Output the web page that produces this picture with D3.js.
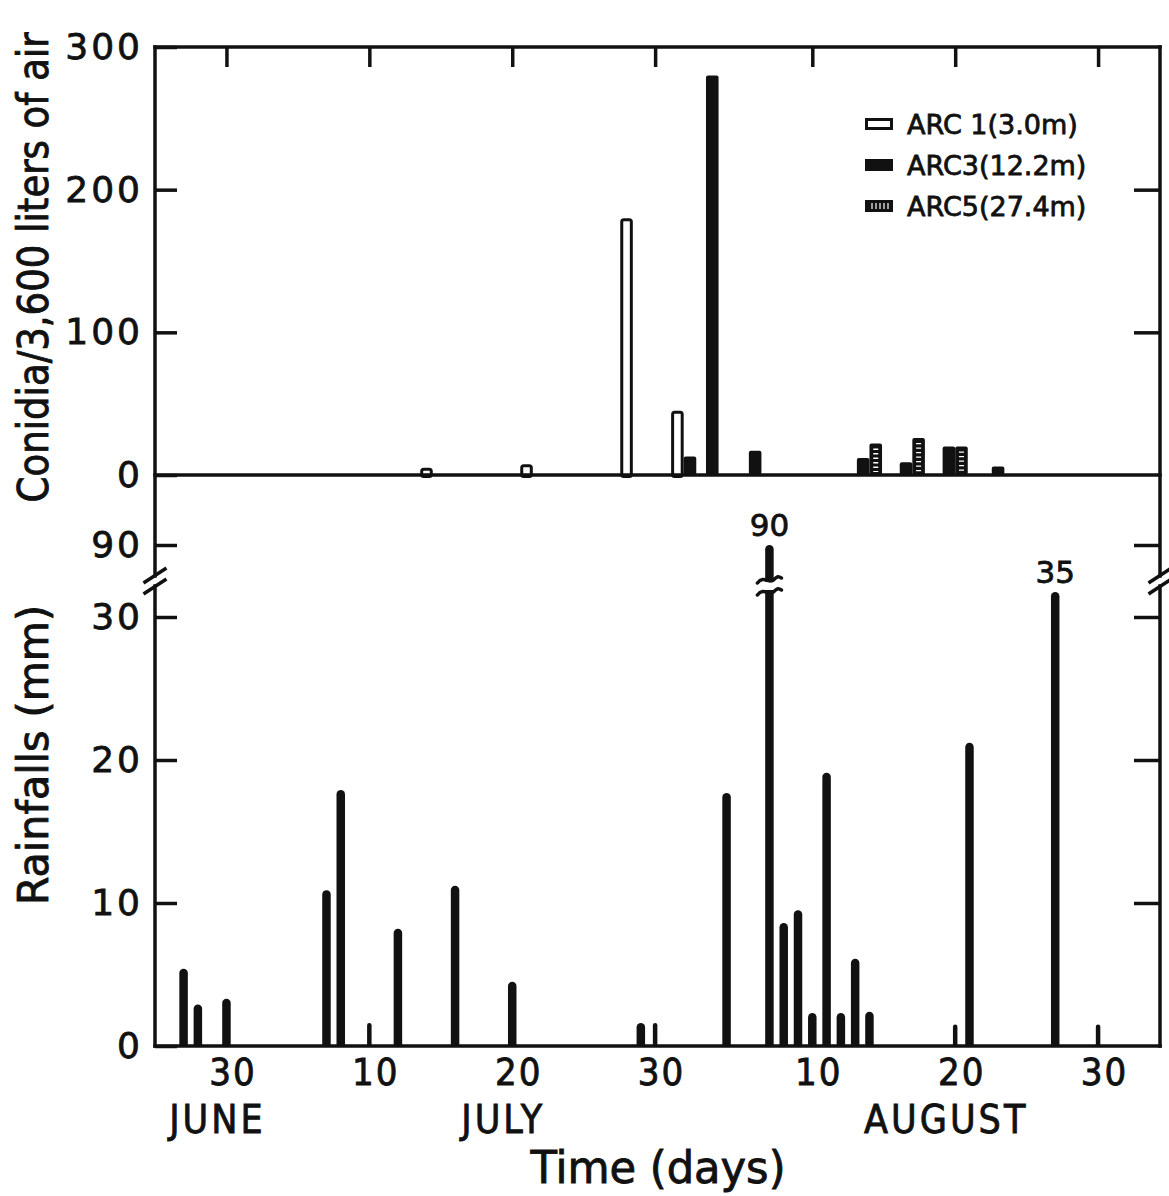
<!DOCTYPE html>
<html>
<head>
<meta charset="utf-8">
<script src="https://cdn.jsdelivr.net/npm/d3@7"></script>
<style>
  body { margin: 0; background: #fff; }
  svg { display: block; }
  text { font-family: "DejaVu Sans", sans-serif; fill: #111; stroke: #111; stroke-width: 0.8px; }
</style>
</head>
<body>
<svg id="chart"></svg>
<script>
// conidia samples (day of sampling) and counts per trap height
const sampleDates = ["07-14", "07-21", "07-28", "08-01", "08-03", "08-06", "08-14", "08-17", "08-20", "08-23"];
const arc1 = [5, 7.5, 180, 45, null, null, null, null, null, null];
const arc3 = [null, null, null, 13, 280, 17, 12, 9, 20, 6];
const arc5 = [null, null, null, null, null, null, 22, 26, 20, null];
const seriesNames = ["ARC 1(3.0m)", "ARC3(12.2m)", "ARC5(27.4m)"];

// daily rainfall (mm)
const rainDates = ["06-27", "06-28", "06-30", "07-07", "07-08", "07-12", "07-16", "07-20", "07-29",
                   "08-04", "08-07", "08-08", "08-09", "08-10", "08-11", "08-12", "08-13", "08-14",
                   "08-21", "08-27"];
const rainValues = [5.4, 2.9, 3.3, 10.9, 17.9, 8.2, 11.2, 4.5, 1.6,
                    17.7, 90, 8.6, 9.5, 2.3, 19.1, 2.3, 6.1, 2.4,
                    21.2, 35];
// trace rainfall, drawn as thin bars
const traceDates = ["07-10", "07-30", "08-20", "08-30"];
const traceValues = [1.6, 1.6, 1.5, 1.5];

const tickDates = ["06-30", "07-10", "07-20", "07-30", "08-10", "08-20", "08-30"];
const months = [["JUNE", "06-30"], ["JULY", "07-20"], ["AUGUST", "08-20"]];
const conidiaTicks = [0, 100, 200, 300];
const rainTicks = [0, 10, 20, 30, 90];

const width = 1169, height = 1196;
const padL = 155, padR = 1160, padT = 47, midY = 475, baseY = 1046;

const parse = d3.utcParse("%m-%d");
const svg = d3.select("#chart").attr("width", width).attr("height", height);

const x = d3.scaleUtc()
    .domain([parse("06-25"), d3.utcHour.offset(parse("09-03"), 8)])
    .range([padL, padR]);
const dayPx = x(parse("07-02")) - x(parse("07-01"));

const yC = d3.scaleLinear().domain([0, 300]).range([midY, padT]);
// broken axis: 30 -> 90 squeezed
const yR = d3.scaleLinear().domain([0, 30, 35, 90]).range([baseY, 617, 592, 545]);

const ink = "#111";
const condensed = "'DejaVu Sans Condensed', 'DejaVu Sans', sans-serif";

// ---- conidia bars
const barW = dayPx * 0.88;
const series = [arc1, arc3, arc5];
const bars = [];
sampleDates.forEach((d, i) => {
  const present = series.map((s, k) => ({ k, v: s[i] })).filter(o => o.v != null);
  const n = present.length;
  present.forEach((o, j) => {
    const cx = x(parse(d)) + (j - (n - 1) / 2) * barW;
    bars.push({ k: o.k, v: o.v, cx });
  });
});

const gBars = svg.append("g");
gBars.selectAll("rect")
  .data(bars)
  .join("rect")
  .attr("x", d => d.cx - barW / 2 + (d.k === 0 ? 1.5 : 0))
  .attr("width", d => barW - (d.k === 0 ? 3 : 0))
  .attr("y", d => yC(d.v) + (d.k === 0 ? 1.5 : 0))
  .attr("height", d => midY - yC(d.v))
  .attr("rx", 2)
  .attr("fill", d => d.k === 0 ? "#fff" : ink)
  .attr("stroke", d => d.k === 0 ? ink : "none")
  .attr("stroke-width", 3);

gBars.selectAll("line")
  .data(bars.filter(d => d.k === 2))
  .join("line")
  .attr("x1", d => d.cx).attr("x2", d => d.cx)
  .attr("y1", d => yC(d.v) + 5).attr("y2", midY - 3)
  .attr("stroke", "#fff")
  .attr("stroke-width", 5)
  .attr("stroke-dasharray", "1.3 3.2");

// ---- rainfall bars
function stick(cx, w, y0, y1) {
  const r = w / 2;
  return `M${cx - r},${y0}V${y1 + r}A${r},${r} 0 0 1 ${cx + r},${y1 + r}V${y0}Z`;
}
const rain = rainDates.map((d, i) => ({ d: parse(d), v: rainValues[i], w: 8.5 }))
  .concat(traceDates.map((d, i) => ({ d: parse(d), v: traceValues[i], w: 4.5 })));

svg.append("g").selectAll("path")
  .data(rain)
  .join("path")
  .attr("d", d => stick(x(d.d), d.w, baseY, yR(d.v)))
  .attr("fill", ink);

// break on the 90 mm bar and labels on the off-scale bars
const big = rain.find(d => d.v === 90);
const bx = x(big.d);
svg.append("rect").attr("x", bx - 8).attr("y", 582).attr("width", 16).attr("height", 8).attr("fill", "#fff");
[580, 592].forEach(yy => {
  svg.append("path")
    .attr("d", `M${bx - 12},${yy + 3}C${bx - 6},${yy - 5} ${bx},${yy + 4} ${bx + 4},${yy}S${bx + 9},${yy - 4} ${bx + 12},${yy - 2}`)
    .attr("fill", "none").attr("stroke", ink).attr("stroke-width", 3.5).attr("stroke-linecap", "round");
});
rain.filter(d => d.v > 30).forEach(d => {
  svg.append("text")
    .attr("x", x(d.d)).attr("y", yR(d.v) - 9)
    .attr("text-anchor", "middle")
    .style("font-size", "31px")
    .text(d.v);
});

// ---- frame
const frame = svg.append("g").attr("stroke", ink).attr("stroke-width", 3.5).attr("fill", "none")
  .attr("stroke-linecap", "square");
frame.append("line").attr("x1", padL).attr("x2", padR).attr("y1", padT).attr("y2", padT);
frame.append("line").attr("x1", padL).attr("x2", padR).attr("y1", midY).attr("y2", midY);
frame.append("line").attr("x1", padL).attr("x2", padR).attr("y1", baseY).attr("y2", baseY);
// left and right axes, broken between 30 and 90 mm
[padL, padR].forEach(ax => {
  frame.append("line").attr("x1", ax).attr("x2", ax).attr("y1", padT).attr("y2", 576);
  frame.append("line").attr("x1", ax).attr("x2", ax).attr("y1", 586).attr("y2", baseY);
  frame.append("line").attr("x1", ax - 10).attr("x2", ax + 10).attr("y1", 582).attr("y2", 569);
  frame.append("line").attr("x1", ax - 10).attr("x2", ax + 10).attr("y1", 593).attr("y2", 580);
});

// ---- axes
function styleAxis(g) {
  g.select(".domain").remove();
  g.selectAll(".tick line").attr("stroke", ink).attr("stroke-width", 3.5);
  g.selectAll("text").style("font-size", "36px").style("letter-spacing", "3px")
    .attr("fill", ink).attr("stroke", ink).attr("stroke-width", 1);
}
svg.append("g").attr("transform", `translate(${padL},0)`)
  .call(d3.axisLeft(yC).tickValues(conidiaTicks).tickSizeInner(-22).tickSizeOuter(0).tickPadding(12))
  .call(styleAxis);
svg.append("g").attr("transform", `translate(${padL},0)`)
  .call(d3.axisLeft(yR).tickValues(rainTicks).tickSizeInner(-22).tickSizeOuter(0).tickPadding(12))
  .call(styleAxis);
svg.append("g").attr("transform", `translate(${padR},0)`)
  .call(d3.axisRight(yC).tickValues(conidiaTicks.slice(1, 3)).tickSizeInner(-26).tickSizeOuter(0).tickFormat(""))
  .call(styleAxis);
svg.append("g").attr("transform", `translate(${padR},0)`)
  .call(d3.axisRight(yR).tickValues(rainTicks.slice(1)).tickSizeInner(-26).tickSizeOuter(0).tickFormat(""))
  .call(styleAxis);
svg.append("g").attr("transform", `translate(0,${padT})`)
  .call(d3.axisTop(x).tickValues(tickDates.map(parse)).tickSizeInner(-20).tickSizeOuter(0).tickFormat(""))
  .call(styleAxis);
const xb = svg.append("g").attr("transform", `translate(0,${baseY})`)
  .call(d3.axisBottom(x).tickValues(tickDates.map(parse)).tickSize(0).tickPadding(12)
    .tickFormat(d3.utcFormat("%-d")))
  .call(styleAxis);
xb.selectAll("text").style("font-family", condensed).style("font-size", "38px")
  .style("letter-spacing", "2px").attr("dx", 6);

svg.append("g").selectAll("text")
  .data(months)
  .join("text")
  .attr("x", d => x(parse(d[1])) - 9)
  .attr("y", 1133)
  .attr("text-anchor", "middle")
  .style("font-size", "39px")
  .style("letter-spacing", "3px")
  .style("font-family", condensed)
  .text(d => d[0]);

svg.append("text")
  .attr("x", 658).attr("y", 1183)
  .attr("text-anchor", "middle")
  .attr("textLength", 255).attr("lengthAdjust", "spacingAndGlyphs")
  .style("font-size", "44px")
  .style("font-family", condensed)
  .text("Time (days)");

svg.append("text")
  .attr("transform", `translate(48,${(505 + 30) / 2}) rotate(-90)`)
  .attr("text-anchor", "middle")
  .attr("textLength", 470).attr("lengthAdjust", "spacingAndGlyphs")
  .style("font-size", "42px")
  .style("font-family", condensed)
  .text("Conidia/3,600 liters of air");

svg.append("text")
  .attr("transform", `translate(48,755) rotate(-90)`)
  .attr("text-anchor", "middle")
  .attr("textLength", 300).attr("lengthAdjust", "spacingAndGlyphs")
  .style("font-size", "42px")
  .style("font-family", condensed)
  .text("Rainfalls (mm)");

// ---- legend
const legend = svg.append("g").attr("transform", "translate(865,124)");
const rows = legend.selectAll("g")
  .data(seriesNames)
  .join("g")
  .attr("transform", (d, i) => `translate(0,${i * 41})`);
rows.append("rect")
  .attr("x", (d, i) => i === 0 ? 1.5 : 0)
  .attr("y", (d, i) => i === 0 ? -4.5 : -6)
  .attr("width", (d, i) => i === 0 ? 25 : 28)
  .attr("height", (d, i) => i === 0 ? 9 : 12)
  .attr("fill", (d, i) => i === 0 ? "#fff" : ink)
  .attr("stroke", (d, i) => i === 0 ? ink : "none")
  .attr("stroke-width", 3);
rows.filter((d, i) => i === 2).selectAll("line")
  .data([7, 11, 15, 19, 23])
  .join("line")
  .attr("x1", d => d).attr("x2", d => d)
  .attr("y1", -3).attr("y2", 3)
  .attr("stroke", "#fff").attr("stroke-width", 1.2);
rows.append("text")
  .attr("x", 42).attr("y", 10)
  .style("font-size", "27px")
  .text(d => d);
</script>
</body>
</html>
